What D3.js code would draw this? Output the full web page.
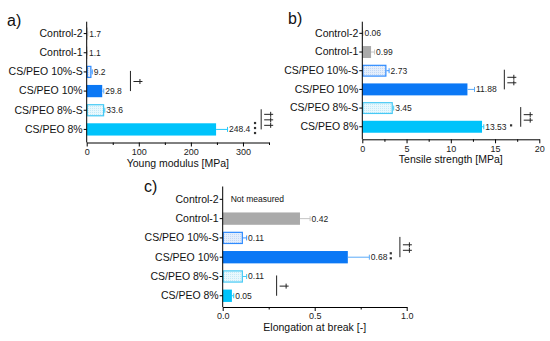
<!DOCTYPE html>
<html>
<head>
<meta charset="utf-8">
<script src="https://cdn.jsdelivr.net/npm/d3@7"></script>
<style>
  body { margin: 0; background: #fff; }
  svg text { font-family: "Liberation Sans", Arial, sans-serif !important; }
</style>
</head>
<body>
<svg id="chart" width="550" height="341"></svg>
<script>
// data
const categories = ["Control-2", "Control-1", "CS/PEO 10%-S", "CS/PEO 10%", "CS/PEO 8%-S", "CS/PEO 8%"];
const youngVals = [1.7, 1.1, 9.2, 29.8, 33.6, 248.4];
const youngErr = [0.4, 0.3, 1.5, 3.0, 1.2, 22];
const tensileVals = [0.06, 0.99, 2.73, 11.88, 3.45, 13.53];
const tensileErr = [0.02, 0.4, 0.3, 0.8, 0.1, 0.2];
const elongVals = [null, 0.42, 0.11, 0.68, 0.11, 0.05];
const elongErr = [null, 0.055, 0.02, 0.117, 0.02, 0.01];
const youngTicks = [0, 100, 200, 300];
const tensileTicks = [0, 5, 10, 15, 20];
const elongTicks = [0, 0.5, 1.0];

// significance marks: [row a, row b, x value, daggers], asterisks: [row, x value, count]
const youngDaggers = [[2, 3, 84, 1], [4, 5, 335, 3]];
const youngStars = [[5, 323, 3]];
const tensileDaggers = [[2, 3, 16.05, 2], [4, 5, 17.9, 2]];
const tensileStars = [[5, 16.8, 1]];
const elongDaggers = [[2, 3, 0.963, 2], [4, 5, 0.293, 1]];
const elongStars = [[3, 0.913, 2]];

const svg = d3.select("#chart");

const fills = ["#aaaaaa", "#aaaaaa", "url(#hatchBlue)", "#0b78f5", "url(#hatchCyan)", "#00c3fb"];
const strokes = ["none", "none", "#2e8bff", "none", "#45c9f5", "none"];
const errColors = ["#bbbbbb", "#c4c4c4", "#3d96ff", "#5aaaf8", "#45c9f5", "#22c8fb"];

// dotted patterns for the "-S" bars
const defs = svg.append("defs");
function dotPattern(id, bg, dot) {
  const p = defs.append("pattern").attr("id", id).attr("patternUnits", "userSpaceOnUse")
    .attr("width", 2).attr("height", 2);
  p.append("rect").attr("width", 2).attr("height", 2).attr("fill", bg);
  p.append("rect").attr("width", 1).attr("height", 1).attr("fill", dot);
}
dotPattern("hatchBlue", "#e4eefc", "#c3d8f5");
dotPattern("hatchCyan", "#e8f8fd", "#c3e9f7");

function panel(opt) {
  const x = d3.scaleLinear().domain(opt.domain).range(opt.xRange);
  const y = d3.scaleBand().domain(categories).range(opt.yRange).paddingInner(0.36).paddingOuter(0.18);
  const g = svg.append("g");
  const x0 = opt.xRange[0];

  // panel letter
  g.append("text").attr("x", opt.letterPos[0]).attr("y", opt.letterPos[1])
    .attr("font-size", 16).attr("fill", "#111").text(opt.letter);

  // bars
  const rows = categories.map((c, i) => ({ c, i, v: opt.vals[i], e: opt.errs[i] }));
  const present = rows.filter(d => d.v !== null);
  const inset = d => (strokes[d.i] === "none" ? 0 : 0.6);
  g.selectAll("rect.bar").data(present).enter().append("rect")
    .attr("class", "bar")
    .attr("x", d => x(0) + inset(d))
    .attr("y", d => y(d.c) + inset(d))
    .attr("width", d => Math.max(0, x(d.v) - x(0) - 2 * inset(d)))
    .attr("height", d => y.bandwidth() - 2 * inset(d))
    .attr("fill", d => fills[d.i])
    .attr("stroke", d => strokes[d.i])
    .attr("stroke-width", 1.2);

  // error bars
  const eg = g.selectAll("g.err").data(present).enter().append("g").attr("class", "err");
  eg.append("line")
    .attr("x1", d => x(d.v)).attr("x2", d => x(d.v + d.e))
    .attr("y1", d => y(d.c) + y.bandwidth() / 2).attr("y2", d => y(d.c) + y.bandwidth() / 2)
    .attr("stroke", d => errColors[d.i]).attr("stroke-width", 1);
  eg.append("line")
    .attr("x1", d => x(d.v + d.e)).attr("x2", d => x(d.v + d.e))
    .attr("y1", d => y(d.c) + y.bandwidth() / 2 - 2.5).attr("y2", d => y(d.c) + y.bandwidth() / 2 + 2.5)
    .attr("stroke", d => errColors[d.i]).attr("stroke-width", 1);
  eg.append("text")
    .attr("x", d => x(d.v + d.e) + 1.5)
    .attr("y", d => y(d.c) + y.bandwidth() / 2 + 3)
    .attr("font-size", 8.5).attr("fill", "#222")
    .text(d => String(d.v));

  rows.filter(d => d.v === null).forEach(d => {
    g.append("text").attr("x", x(0) + 8).attr("y", y(d.c) + y.bandwidth() / 2 + 3)
      .attr("font-size", 8.5).attr("fill", "#111").text("Not measured");
  });

  // x axis
  const xa = g.append("g").attr("transform", `translate(0,${opt.axisY})`)
    .call(d3.axisBottom(x).tickValues(opt.ticks).tickSize(4).tickPadding(2)
      .tickFormat(opt.fmt).tickSizeOuter(0));
  xa.selectAll("text").attr("font-size", 9).attr("fill", "#222");
  const step = opt.ticks[1] - opt.ticks[0];
  const minor = d3.range(opt.domain[0] + step / 2, opt.domain[1] + 1e-9, step);
  g.append("g").attr("transform", `translate(0,${opt.axisY})`)
    .call(d3.axisBottom(x).tickValues(minor).tickSize(2.5).tickFormat("").tickSizeOuter(0))
    .select(".domain").remove();

  // y axis
  const ya = g.append("g").attr("transform", `translate(${x0},0)`)
    .call(d3.axisLeft(y).tickSize(3).tickPadding(1).tickSizeOuter(0));
  ya.select(".domain").remove();
  ya.selectAll("text").attr("font-size", 10.5).attr("fill", "#111");
  g.append("line").attr("x1", x0).attr("x2", x0).attr("y1", opt.axisTop).attr("y2", opt.axisY)
    .attr("stroke", "#000").attr("stroke-width", 1);

  // axis title
  g.append("text").attr("x", (opt.xRange[0] + opt.xRange[1]) / 2).attr("y", opt.axisY + 24)
    .attr("text-anchor", "middle").attr("font-size", 10.5).attr("fill", "#111").text(opt.title);

  // significance brackets with sideways daggers
  const rowMid = i => y(categories[i]) + y.bandwidth() / 2;
  opt.daggers.forEach(([a, b, xv, n]) => {
    const lx = x(xv);
    g.append("line").attr("x1", lx).attr("x2", lx)
      .attr("y1", rowMid(a) - 1).attr("y2", rowMid(b))
      .attr("stroke", "#222").attr("stroke-width", 1);
    const my = (rowMid(a) + rowMid(b)) / 2;
    const ys = d3.range(n).map(k => my + (k - (n - 1) / 2) * 5.5);
    const p = d3.path();
    ys.forEach(yy => {
      p.moveTo(lx + 3, yy); p.lineTo(lx + 12, yy);
      p.moveTo(lx + 9.5, yy - 2.5); p.lineTo(lx + 9.5, yy + 2.5);
    });
    g.append("path").attr("d", p.toString()).attr("stroke", "#222").attr("stroke-width", 1)
      .attr("fill", "none");
  });
  opt.stars.forEach(([r, xv, n]) => {
    const ys = d3.range(n).map(k => rowMid(r) - 1.5 + (k - (n - 1) / 2) * 5);
    g.selectAll(null).data(ys).enter().append("rect")
      .attr("x", x(xv) - 1).attr("y", yy => yy - 1).attr("width", 2.2).attr("height", 2.2)
      .attr("fill", "#333");
  });
}

panel({
  letter: "a)", letterPos: [7, 26],
  vals: youngVals, errs: youngErr, domain: [0, 350], ticks: youngTicks, fmt: d3.format("d"),
  xRange: [86.7, 269], yRange: [24, 139], axisY: 142.5, axisTop: 21.7,
  title: "Young modulus [MPa]", daggers: youngDaggers, stars: youngStars
});
panel({
  letter: "b)", letterPos: [288, 24],
  vals: tensileVals, errs: tensileErr, domain: [0, 20], ticks: tensileTicks, fmt: d3.format("d"),
  xRange: [362.3, 539.3], yRange: [24, 136.1], axisY: 139.3, axisTop: 21.7,
  title: "Tensile strength [MPa]", daggers: tensileDaggers, stars: tensileStars
});
panel({
  letter: "c)", letterPos: [144, 192],
  vals: elongVals, errs: elongErr, domain: [0, 1], ticks: elongTicks, fmt: d3.format(".1f"),
  xRange: [222.7, 406.7], yRange: [189.7, 305.4], axisY: 307, axisTop: 186.5,
  title: "Elongation at break [-]", daggers: elongDaggers, stars: elongStars
});
</script>
</body>
</html>
